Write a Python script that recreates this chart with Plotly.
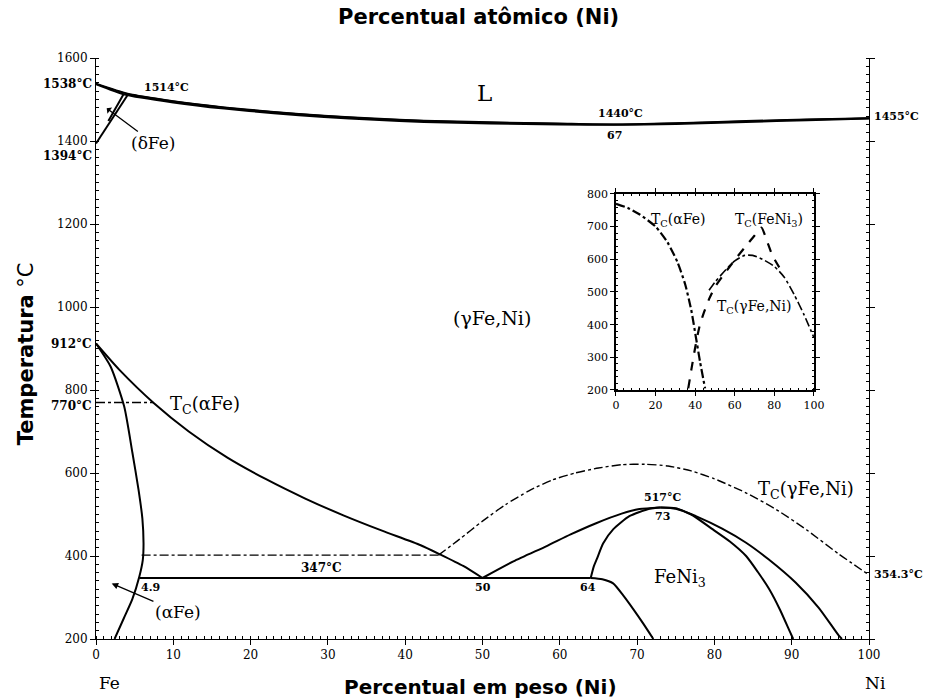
import plotly.graph_objects as go

# ---------------- data (wt% Ni, temperature in deg C) ----------------
liq_x = [0, 4.1, 10, 16.6, 23, 29.5, 36, 42.4, 51, 60, 67, 75, 84.1, 92, 100]
liq_t = [1538, 1514, 1496, 1481, 1470, 1461, 1454, 1449, 1445, 1442, 1440, 1443, 1448, 1452, 1455]
sol_x = [0, 3.7, 10, 16.6, 23, 29.5, 36, 42.4, 51, 60, 67, 75, 84.1, 92, 100]
sol_t = [1537, 1512, 1493, 1478, 1467, 1458, 1451, 1446, 1442, 1440, 1439, 1441, 1446, 1450, 1454]

delta1_x = [0, 4.2]
delta1_t = [1394, 1514]
delta2_x = [1.6, 3.6]
delta2_t = [1448, 1514]

alpha_x = [0, 1.9, 3.65, 4.7, 5.5, 6.0, 6.15, 6.05, 5.6, 4.7, 3.6, 2.4]
alpha_t = [912, 856, 760, 650, 560, 490, 430, 390, 350, 296, 250, 200]

gamma_x = [0, 3, 7.5, 12, 17, 22, 27, 32, 37, 42, 44.5, 47.5, 50]
gamma_t = [912, 849, 768, 700, 637, 585, 539, 498, 461, 426, 404, 376, 347]

eut_x = [5.6, 64]
eut_t = [347, 347]

fl_x = [50, 54, 58.3, 61.4, 64.7, 68, 70.3, 73]
fl_t = [347, 387, 424, 452, 479, 502, 513, 517]

fn_x = [64, 64.4, 64.8, 65.6, 66.9, 69, 71.6, 73]
fn_t = [347, 375, 393, 430, 464, 496, 514, 517]

fb_x = [64, 65.5, 66.9, 68.2, 69.5, 70.8, 72.1]
fb_t = [347, 344, 334, 305, 272, 237, 200]

fr_x = [73, 75, 77, 79.8, 82, 84.1, 85.6, 87.1, 88.5, 89.9, 90.2]
fr_t = [517, 514, 500, 464, 435, 400, 362, 320, 270, 212, 200]

go_x = [73, 75, 77.6, 81, 84.1, 87, 90.5, 93.5, 96.1, 96.5]
go_t = [517, 515, 496, 466, 432, 392, 336, 275, 208, 200]

tca_x = [0, 7.4]
tca_t = [770, 770]

h400_x = [5.9, 44.3]
h400_t = [402, 402]

tcg_x = [44.3, 47, 50, 53, 56, 59, 62, 65, 68, 71, 74, 77, 80, 84, 88, 92, 96, 100]
tcg_t = [402, 440, 484, 524, 557, 583, 600, 612, 620, 621, 617, 605, 586, 553, 512, 462, 406, 354.3]

# inset (at% Ni)
in_a_x = [0, 6, 12, 20, 26, 31, 35, 38, 40.4, 42.5, 45]
in_a_t = [770, 757, 737, 700, 652, 592, 522, 445, 360, 285, 205]
in_f_x = [36.5, 38, 40, 42, 44, 47, 50, 55, 60, 65, 70, 73.5, 76, 79, 83]
in_f_t = [205, 260, 330, 390, 430, 478, 515, 558, 598, 636, 673, 697, 660, 612, 570]
in_g_x = [47, 50, 55, 60, 65, 69, 74, 80, 85, 90, 95, 100]
in_g_t = [505, 530, 565, 595, 612, 612, 600, 578, 545, 492, 430, 360]

main_ticks_x = list(range(0, 101, 10))
main_ticks_t = list(range(200, 1601, 200))
top_ticks_at = list(range(0, 101, 10))
inset_ticks_x = list(range(0, 101, 20))
inset_ticks_t = list(range(200, 801, 100))

M_FE, M_NI = 55.85, 58.69


def at_to_wt(a):
    return 100.0 * a * M_NI / (a * M_NI + (100 - a) * M_FE)


BLACK = "black"
fig = go.Figure()


def line(x, y, dash="solid", width=2.0, xa="x", ya="y"):
    fig.add_trace(go.Scatter(x=x, y=y, mode="lines", xaxis=xa, yaxis=ya,
                             line=dict(color=BLACK, width=width, dash=dash, shape="spline",
                                       smoothing=0.6),
                             showlegend=False, hoverinfo="skip"))


for xs, ts in [(liq_x, liq_t), (sol_x, sol_t), (delta1_x, delta1_t), (delta2_x, delta2_t),
               (alpha_x, alpha_t), (gamma_x, gamma_t), (eut_x, eut_t), (fl_x, fl_t),
               (fn_x, fn_t), (fb_x, fb_t), (fr_x, fr_t), (go_x, go_t)]:
    line(xs, ts)
line(liq_x, liq_t, width=1.2)
for xs, ts in [(tca_x, tca_t), (h400_x, h400_t), (tcg_x, tcg_t)]:
    line(xs, ts, dash="dashdot", width=1.4)

line(in_a_x, in_a_t, dash="dashdot", width=2.2, xa="x3", ya="y3")
line(in_f_x, in_f_t, dash="dash", width=2.2, xa="x3", ya="y3")
line(in_g_x, in_g_t, dash="dashdot", width=1.6, xa="x3", ya="y3")

SERIF = "DejaVu Serif"
SANS = "DejaVu Sans"
tickfont = dict(family=SERIF, size=12, color=BLACK)

fig.update_layout(
    width=936, height=699,
    margin=dict(l=96, r=67, t=58, b=60),
    paper_bgcolor="white", plot_bgcolor="white",
    xaxis=dict(range=[0, 100], tickvals=main_ticks_x, ticks="outside", ticklen=5,
               showline=True, linecolor=BLACK, linewidth=1, showgrid=False, zeroline=False,
               tickfont=tickfont, tickcolor=BLACK,
               minor=dict(dtick=1, ticks="inside", ticklen=3, tickcolor=BLACK)),
    xaxis2=dict(range=[0, 100], overlaying="x", side="top", anchor="y",
                tickvals=[at_to_wt(a) for a in top_ticks_at],
                ticktext=[str(a) for a in top_ticks_at],
                ticks="outside", ticklen=5, showline=True, linecolor=BLACK, linewidth=1,
                showgrid=False, zeroline=False, tickfont=tickfont, tickcolor=BLACK,
                minor=dict(tickvals=[at_to_wt(a) for a in range(0, 101)], ticks="inside",
                           ticklen=3, tickcolor=BLACK)),
    yaxis=dict(range=[200, 1600], tickvals=main_ticks_t, ticks="outside", ticklen=5,
               showline=True, linecolor=BLACK, linewidth=1, mirror="ticks",
               showgrid=False, zeroline=False, tickfont=tickfont, tickcolor=BLACK,
               minor=dict(dtick=20, ticks="inside", ticklen=3, tickcolor=BLACK)),
    xaxis3=dict(domain=[0.6727, 0.9288], anchor="y3", range=[0, 100], tickvals=inset_ticks_x,
                ticks="outside", ticklen=4, showline=True, linecolor=BLACK, linewidth=1.5,
                mirror="ticks", showgrid=False, zeroline=False,
                tickfont=dict(family=SERIF, size=11, color=BLACK), tickcolor=BLACK,
                minor=dict(dtick=4, ticks="inside", ticklen=2, tickcolor=BLACK)),
    xaxis4=dict(overlaying="x3", side="top", anchor="y3", range=[0, 100], tickvals=inset_ticks_x,
                ticks="", showline=False, showgrid=False, zeroline=False,
                tickfont=dict(family=SERIF, size=11, color=BLACK)),
    yaxis3=dict(domain=[0.4286, 0.766], anchor="x3", range=[200, 800], tickvals=inset_ticks_t,
                ticks="outside", ticklen=4, showline=True, linecolor=BLACK, linewidth=1.5,
                mirror="ticks", showgrid=False, zeroline=False,
                tickfont=dict(family=SERIF, size=11, color=BLACK), tickcolor=BLACK,
                minor=dict(dtick=20, ticks="inside", ticklen=2, tickcolor=BLACK)),
)

ann = []


def txt(x, y, s, size=16, bold=False, xanchor="center", yanchor="middle", xref="x", yref="y",
        xshift=0, yshift=0, family=SERIF, angle=0):
    ann.append(dict(x=x, y=y, xref=xref, yref=yref, text=("<b>%s</b>" % s) if bold else s,
                    showarrow=False, xanchor=xanchor, yanchor=yanchor, xshift=xshift,
                    yshift=yshift, textangle=angle,
                    font=dict(family=family, size=size, color=BLACK)))


# left/right temperature labels
for t, s, dy in [(1538, "1538°C", 0), (1394, "1394°C", -13), (912, "912°C", 0), (770, "770°C", -4)]:
    txt(0, t, s, size=12, bold=True, xanchor="right", xref="paper", xshift=-2, yshift=dy)
for t, s in [(1458, "1455°C"), (354.3, "354.3°C")]:
    txt(1, t, s, size=11, bold=True, xanchor="left", xref="paper", xshift=3)

txt(9.1, 1528, "1514°C", size=11, bold=True)
txt(50.3, 1516, "L", size=23)
txt(67.8, 1467, "1440°C", size=11, bold=True)
txt(67.1, 1414, "67", size=11, bold=True)
txt(14.1, 764, "T<sub>C</sub>(αFe)", size=18)
txt(51.2, 973, "(γFe,Ni)", size=19)
txt(29.2, 371, "347°C", size=12, bold=True)
txt(7.0, 324, "4.9", size=11, bold=True)
txt(50.0, 325, "50", size=11, bold=True)
txt(63.6, 323, "64", size=11, bold=True)
txt(73.3, 540, "517°C", size=11, bold=True)
txt(73.3, 495, "73", size=11, bold=True)
txt(75.5, 347, "FeNi<sub>3</sub>", size=18)
txt(91.8, 559, "T<sub>C</sub>(γFe,Ni)", size=18)

# inset labels
txt(31.3, 721, "T<sub>C</sub>(αFe)", size=14, xref="x3", yref="y3")
txt(77.3, 721, "T<sub>C</sub>(FeNi<sub>3</sub>)", size=14, xref="x3", yref="y3")
txt(70.2, 454, "T<sub>C</sub>(γFe,Ni)", size=14, xref="x3", yref="y3")

# Fe / Ni
txt(1.8, 0, "Fe", size=17, xref="x", yref="paper", yanchor="top", yshift=-32)
txt(1, 0, "Ni", size=17, xref="paper", yref="paper", yanchor="top", xanchor="center",
    xshift=6, yshift=-32)

# axis titles
txt(0.497, 0, "<b>Percentual em peso (Ni)</b>", size=20, xref="paper", yref="paper",
    yanchor="top", yshift=-34, family=SANS)
txt(0.495, 1, "<b>Percentual atômico (Ni)</b>", size=21, xref="paper", yref="paper",
    yanchor="bottom", yshift=27, family=SANS)
txt(0, 0.49, "<b>Temperatura</b> °C", size=21, xref="paper", yref="paper",
    xshift=-70, family=SANS, angle=-90)

# pointer labels
ann.append(dict(x=1.38, y=1479, xref="x", yref="y", ax=7.4, ay=1395, axref="x", ayref="y",
                text="(δFe)", showarrow=True, arrowhead=1, arrowsize=1, arrowwidth=1.3,
                arrowcolor=BLACK, font=dict(family=SERIF, size=17, color=BLACK)))
ann.append(dict(x=2.03, y=334, xref="x", yref="y", ax=10.6, ay=265, axref="x", ayref="y",
                text="(αFe)", showarrow=True, arrowhead=2, arrowsize=1, arrowwidth=1.3,
                arrowcolor=BLACK, font=dict(family=SERIF, size=17, color=BLACK)))

fig.update_layout(annotations=ann)
fig.write_html("out.html", post_script="document.body.style.margin='0';",
               config={"displayModeBar": False})
